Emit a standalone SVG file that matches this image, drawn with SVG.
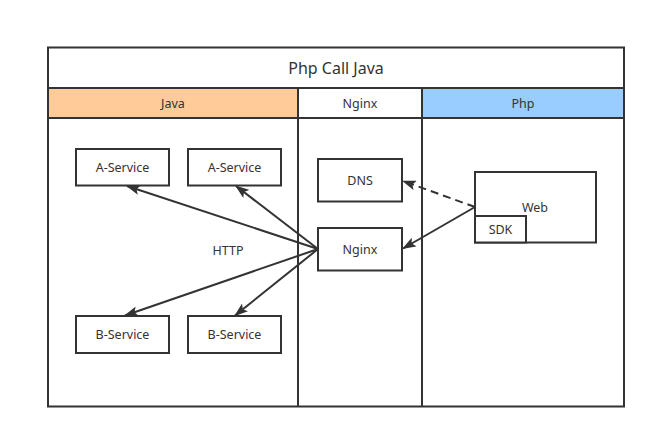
<svg xmlns="http://www.w3.org/2000/svg" width="657" height="439" viewBox="0 0 657 439">
<style>
.b{fill:#fff;stroke:#333;stroke-width:2}
.t{font-family:"Noto Sans","DejaVu Sans",sans-serif;font-size:12.5px;fill:#333;text-anchor:middle;dominant-baseline:central}
.c{stroke:#333;stroke-width:2;fill:none}
</style>
<defs>
<marker id="a" markerWidth="14" markerHeight="10" refX="13" refY="5" orient="auto" markerUnits="userSpaceOnUse"><path d="M0,0 L14,5 L0,10 L3,5 Z" fill="#333"/></marker>
</defs>
<rect width="657" height="439" fill="#fff"/>
<g id="pool">
<rect class="b" x="48" y="47.5" width="576" height="359"/>
<line class="c" x1="48" y1="88" x2="624" y2="88"/>
<text class="t" x="336" y="68" style="font-size:16px">Php Call Java</text>
</g>
<g id="lane-java">
<rect x="48" y="88" width="250" height="30" fill="#FFCC99" stroke="#333" stroke-width="2"/>
<text class="t" x="173" y="103">Java</text>
</g>
<g id="lane-nginx">
<rect x="298" y="88" width="124" height="30" fill="#fff" stroke="#333" stroke-width="2"/>
<text class="t" x="360" y="103">Nginx</text>
</g>
<g id="lane-php">
<rect x="422" y="88" width="202" height="30" fill="#99CCFF" stroke="#333" stroke-width="2"/>
<text class="t" x="523" y="103">Php</text>
</g>
<g id="dividers">
<line class="c" x1="298" y1="118" x2="298" y2="406.5"/>
<line class="c" x1="422" y1="118" x2="422" y2="406.5"/>
</g>
<g id="a-service-1"><rect class="b" x="76" y="149" width="93" height="36.5"/><text class="t" x="122.5" y="167.5">A-Service</text></g>
<g id="a-service-2"><rect class="b" x="188" y="149" width="93" height="36.5"/><text class="t" x="234.5" y="167.5">A-Service</text></g>
<g id="b-service-1"><rect class="b" x="76" y="316" width="93" height="37"/><text class="t" x="122.5" y="334.5">B-Service</text></g>
<g id="b-service-2"><rect class="b" x="188" y="316" width="93" height="37"/><text class="t" x="234.5" y="334.5">B-Service</text></g>
<g id="dns"><rect class="b" x="318" y="159" width="84" height="42.5"/><text class="t" x="360" y="180.5">DNS</text></g>
<g id="nginx"><rect class="b" x="318" y="228" width="84" height="42.5"/><text class="t" x="360" y="249.5">Nginx</text></g>
<g id="web"><rect class="b" x="475" y="172" width="121" height="70.5"/><text class="t" x="535" y="207">Web</text></g>
<g id="sdk"><rect class="b" x="475" y="216" width="51" height="26.5"/><text class="t" x="500.5" y="229">SDK</text></g>
<g id="connectors">
<line class="c" x1="318" y1="249" x2="127" y2="186" marker-end="url(#a)"/>
<line class="c" x1="318" y1="249" x2="236" y2="186" marker-end="url(#a)"/>
<line class="c" x1="318" y1="249" x2="125" y2="315.5" marker-end="url(#a)"/>
<line class="c" x1="318" y1="249" x2="235" y2="315.5" marker-end="url(#a)"/>
<line class="c" x1="475" y1="207" x2="403" y2="181" stroke-dasharray="8,5" marker-end="url(#a)"/>
<line class="c" x1="475" y1="207" x2="403" y2="248.5" marker-end="url(#a)"/>
<text class="t" x="228" y="250">HTTP</text>
</g>
</svg>
